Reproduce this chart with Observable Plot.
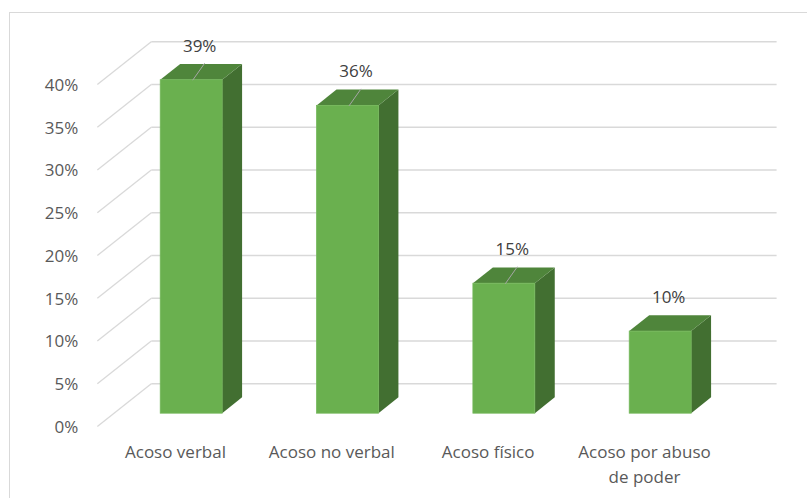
<!DOCTYPE html>
<html>
<head>
<meta charset="utf-8">
<script src="https://cdn.jsdelivr.net/npm/d3@7"></script>
<script src="https://cdn.jsdelivr.net/npm/@observablehq/plot@0.6"></script>
<style>
  body { margin: 0; background: #fff; }
  #wrap { position: relative; width: 807px; height: 498px; overflow: hidden; }
  #border { position: absolute; left: 9px; top: 12px; width: 800px; height: 490px;
            border-top: 1.3px solid #d9d9d9; border-left: 1.3px solid #d9d9d9; pointer-events: none; }
  svg { font-family: "Open Sans", sans-serif; }
</style>
</head>
<body>
<div id="wrap"><div id="border"></div></div>
<script>
// ---- data ----
const categories = ["Acoso verbal", "Acoso no verbal", "Acoso físico", "Acoso por abuso\nde poder"];
const values = [0.39, 0.36, 0.152, 0.096];
const showLeader = [true, true, true, false];
const yTicks = [0, 0.05, 0.10, 0.15, 0.20, 0.25, 0.30, 0.35, 0.40];

// ---- 3D oblique projection helpers (in data units) ----
const DX = 0.345;   // category units per full depth
const DY = 0.05;    // value units per full depth
const zF = 0.30, zB = 0.67; // bar front/back depth
const HW = 0.198;   // bar half width (category units)

const bars = values.map((v, i) => ({i, v, cat: categories[i], label: Math.round(v * 100) + "%", leader: showLeader[i]}));

const frontFace = bars.map(b => ({
  x1: b.i - HW + zF * DX, x2: b.i + HW + zF * DX,
  y1: zF * DY, y2: b.v + zF * DY
}));
const sideFace = bars.flatMap(b => [zF, zB].map(z => ({
  cat: b.cat, x: b.i + HW + z * DX, y1: z * DY, y2: b.v + z * DY
})));
const topFace = bars.flatMap(b => [zF, zB].map(z => ({
  cat: b.cat, y: b.v + z * DY, x1: b.i - HW + z * DX, x2: b.i + HW + z * DX
})));

const sideGrid = yTicks.map(v => ({x1: -0.5, y1: v, x2: -0.5 + DX, y2: v + DY}));
const backGrid = yTicks.map(v => ({x1: -0.5 + DX, y1: v + DY, x2: 3.5 + DX, y2: v + DY}));

const labelData = bars.map(b => ({x: b.i + zF * DX, y: b.v + zF * DY, label: b.label, leader: b.leader}));

const chart = Plot.plot({
  width: 807,
  height: 498,
  margin: 0,
  x: {type: "linear", domain: [0, 3], range: [175, 644], axis: null},
  y: {type: "linear", domain: [0, 0.4], range: [426, 84], axis: null},
  marks: [
    Plot.link(sideGrid, {x1: "x1", y1: "y1", x2: "x2", y2: "y2", stroke: "#d9d9d9", strokeWidth: 1.3}),
    Plot.link(backGrid, {x1: "x1", y1: "y1", x2: "x2", y2: "y2", stroke: "#d9d9d9", strokeWidth: 1.3}),
    Plot.text(yTicks, {x: -0.5, y: d => d, text: d => Math.round(d * 100) + "%", textAnchor: "end", dx: -19, dy: 1,
      fill: "#595959", fontSize: 17}),
    Plot.areaY(sideFace, {x: "x", y1: "y1", y2: "y2", z: "cat", fill: "#426f31"}),
    Plot.areaX(topFace, {y: "y", x1: "x1", x2: "x2", z: "cat", fill: "#4f853b"}),
    Plot.rect(frontFace, {x1: "x1", x2: "x2", y1: "y1", y2: "y2", fill: "#6ab04f", stroke: "#74b85a", strokeWidth: 0.8}),
    Plot.link(labelData.filter(d => d.leader), {x1: "x", y1: "y", x2: "x", y2: "y", stroke: "#a6a6a6", strokeWidth: 1,
      render: (index, scales, values, dims, ctx, next) => {
        const g = next(index, scales, values, dims, ctx);
        d3.select(g).selectAll("path").each(function(_, k) {
          const idx = index[k];
          const x = values.x1[idx], y = values.y1[idx];
          d3.select(this).attr("d", `M${x + 13},${y - 17}L${x + 1},${y}`);
        });
        return g;
      }}),
    Plot.text(labelData, {x: "x", y: "y", text: "label", dx: 8, dy: -34, fill: "#404040", fontSize: 17}),
    Plot.text(categories, {x: (d, i) => i, y: 0, text: d => d, lineAnchor: "top", dy: 14, lineHeight: 1.47,
      fill: "#595959", fontSize: 17})
  ]
});
document.getElementById("wrap").prepend(chart);
</script>
</body>
</html>
